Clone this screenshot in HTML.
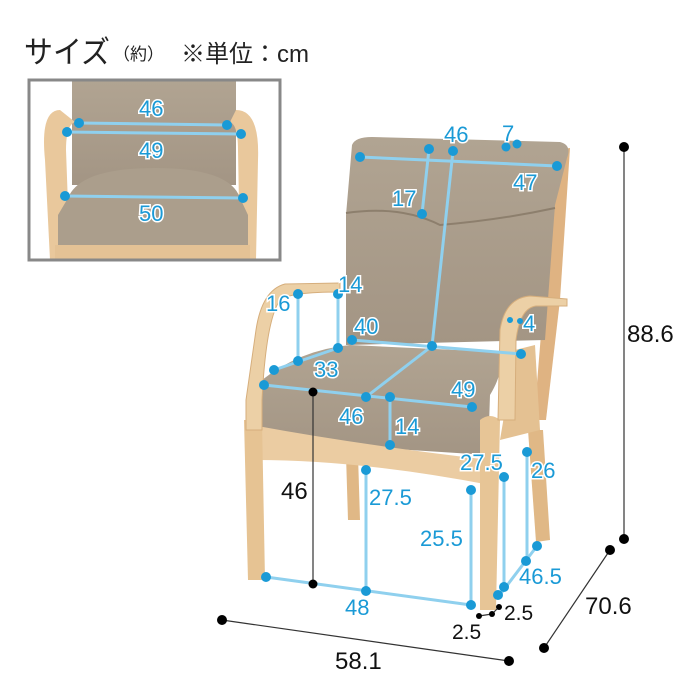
<!DOCTYPE html>
<html><head><meta charset="utf-8"><style>
html,body{margin:0;padding:0;background:#fff;width:700px;height:700px;overflow:hidden}
svg{display:block}
.b{font-family:"Liberation Sans",sans-serif;font-size:22px;fill:#1a9ad6;stroke:#fff;stroke-width:3px;paint-order:stroke}
.k{font-family:"Liberation Sans",sans-serif;font-size:24px;fill:#111}
.bl{stroke:#8fd0ee;stroke-width:3;fill:none}
</style></head><body>
<svg width="700" height="700" viewBox="0 0 700 700">
<defs>
<linearGradient id="fab" x1="0" y1="0" x2="0" y2="1"><stop offset="0" stop-color="#b1a492"/><stop offset="1" stop-color="#a39584"/></linearGradient>
</defs>
<text x="24" y="63" textLength="86" lengthAdjust="spacingAndGlyphs" style="font-family:'Liberation Sans','Noto Sans CJK JP',sans-serif;font-size:31px;fill:#222">サイズ</text>
<text x="113" y="60" style="font-family:'Liberation Sans','Noto Sans CJK JP',sans-serif;font-size:17px;fill:#222">（約）</text>
<text x="181" y="62" style="font-family:'Liberation Sans','Noto Sans CJK JP',sans-serif;font-size:24px;fill:#222">※単位：cm</text>

<g>
<rect x="29" y="80" width="251" height="180" fill="#fff"/>
<rect x="72" y="80" width="164" height="105" fill="url(#fab)"/>
<path d="M60 110 Q40 110 45 160 L50 260 L70 260 L66 150 Q66 125 75 122 Z" fill="#e9c89c"/>
<path d="M236 110 Q260 110 258 160 L256 260 L240 260 L238 150 Q238 125 230 122 Z" fill="#e9c89c"/>
<path d="M68 198 Q80 168 155 168 Q230 168 240 198 L248 215 L248 245 L58 245 L58 215 Z" fill="#ab9e8c"/>
<rect x="55" y="245" width="195" height="15" fill="#e4c295"/>
<rect x="29" y="80" width="251" height="180" fill="none" stroke="#888" stroke-width="3"/>
<line class="bl" x1="79" y1="123" x2="227" y2="125"/>
<line class="bl" x1="67" y1="132" x2="241" y2="134"/>
<line class="bl" x1="65" y1="196" x2="243" y2="198"/>
<g fill="#1a9ad6"><circle cx="79" cy="123" r="5"/><circle cx="227" cy="125" r="5"/><circle cx="67" cy="132" r="5"/><circle cx="241" cy="134" r="5"/><circle cx="65" cy="196" r="5"/><circle cx="243" cy="198" r="5"/></g>
<text class="b" x="139" y="116">46</text>
<text class="b" x="139" y="158">49</text>
<text class="b" x="139" y="221">50</text>
</g>

<g>
<path d="M556 150 L570 148 L560 300 L546 420 L534 420 Z" fill="#dfb382"/>
<path d="M346 455 L358 455 L360 520 L348 520 Z" fill="#e0b886"/>
<path d="M528 430 L543 430 L550 540 L536 542 Z" fill="#e0b886"/>
<path d="M352 145 Q355 137 372 137 L560 142 Q572 145 567 158 L555 205 L545 340 L346 345 L346 215 Z" fill="url(#fab)"/>
<path d="M346 213 Q400 205 440 225 Q500 220 555 208" stroke="#8d7f6d" stroke-width="2" fill="none"/>
<path d="M515 350 L535 345 L540 430 L500 440 Z" fill="#e4c192"/>
<path d="M262 380 Q300 350 350 345 L500 352 Q505 370 490 395 L488 455 L256 440 L254 395 Z" fill="url(#fab)"/>
<path d="M252 425 Q360 445 490 460 L490 485 Q360 460 256 460 Z" fill="#ebcca2"/>
<path d="M244 420 L262 420 L265 580 L248 580 Z" fill="#e6c393"/>
<path d="M480 420 Q490 412 500 420 L496 610 L480 610 Z" fill="#e7c596"/>
<path d="M340 283 L285 284 Q262 290 256 330 L246 400 L246 430 L262 430 L262 400 Q266 320 280 300 Q290 292 340 292 Z" fill="#ecd0a6" stroke="#d6ae7c" stroke-width="1"/>
<path d="M567 299 L530 296 Q505 298 500 330 L498 420 L515 420 L516 340 Q520 308 536 306 L567 306 Z" fill="#ecd0a6" stroke="#d6ae7c" stroke-width="1"/>
</g>

<g class="bl">
<line x1="360" y1="157" x2="557" y2="166"/>
<line x1="429" y1="149" x2="422" y2="214"/>
<line x1="453" y1="151" x2="432" y2="346"/>
<line x1="352" y1="340" x2="521" y2="354"/>
<line x1="432" y1="346" x2="366" y2="397"/>
<line x1="338" y1="294" x2="338" y2="348"/>
<line x1="298" y1="294" x2="298" y2="361"/>
<line x1="274" y1="370" x2="338" y2="348"/>
<line x1="264" y1="385" x2="472" y2="407"/>
<line x1="390" y1="397" x2="390" y2="445"/>
<line x1="527" y1="452" x2="527" y2="560"/>
<line x1="504" y1="477" x2="504" y2="587"/>
<line x1="499" y1="596" x2="537" y2="546"/>
<line x1="366" y1="470" x2="366" y2="591"/>
<line x1="471" y1="490" x2="471" y2="605"/>
<line x1="266" y1="577" x2="471" y2="605"/>
</g>
<g fill="#1a9ad6">
<circle cx="360" cy="157" r="5"/><circle cx="557" cy="166" r="5"/><circle cx="429" cy="149" r="5"/><circle cx="422" cy="214" r="5"/><circle cx="453" cy="151" r="5"/><circle cx="432" cy="346" r="5"/>
<circle cx="506" cy="147" r="4.5"/><circle cx="517" cy="144" r="4.5"/>
<circle cx="352" cy="340" r="5"/><circle cx="521" cy="354" r="5"/><circle cx="366" cy="397" r="5"/>
<circle cx="338" cy="294" r="5"/><circle cx="338" cy="348" r="5"/><circle cx="298" cy="294" r="5"/><circle cx="298" cy="361" r="5"/><circle cx="274" cy="370" r="5"/>
<circle cx="264" cy="385" r="5"/><circle cx="472" cy="407" r="5"/><circle cx="390" cy="397" r="5"/><circle cx="390" cy="445" r="5"/>
<circle cx="510" cy="320" r="3"/><circle cx="520" cy="321" r="3"/>
<circle cx="527" cy="452" r="5"/><circle cx="504" cy="477" r="5"/><circle cx="504" cy="587" r="5"/><circle cx="526" cy="561" r="5"/><circle cx="537" cy="546" r="5"/><circle cx="498" cy="595" r="5"/>
<circle cx="366" cy="470" r="5"/><circle cx="366" cy="591" r="5"/><circle cx="471" cy="490" r="5"/><circle cx="471" cy="605" r="5"/><circle cx="266" cy="577" r="5"/>
</g>
<g>
<text class="b" x="444" y="142">46</text>
<text class="b" x="502" y="141">7</text>
<text class="b" x="513" y="190">47</text>
<text class="b" x="392" y="206">17</text>
<text class="b" x="338" y="292">14</text>
<text class="b" x="266" y="311">16</text>
<text class="b" x="354" y="334">40</text>
<text class="b" x="523" y="331">4</text>
<text class="b" x="314" y="377">33</text>
<text class="b" x="451" y="397">49</text>
<text class="b" x="339" y="424">46</text>
<text class="b" x="395" y="434">14</text>
<text class="b" x="460" y="470">27.5</text>
<text class="b" x="531" y="478">26</text>
<text class="b" x="369" y="505">27.5</text>
<text class="b" x="420" y="546">25.5</text>
<text class="b" x="519" y="584">46.5</text>
<text class="b" x="345" y="615">48</text>
</g>

<g stroke="#333" stroke-width="1.2">
<line x1="313" y1="392" x2="313" y2="584"/>
<line x1="624" y1="147" x2="624" y2="539"/>
<line x1="222" y1="620" x2="509" y2="661"/>
<line x1="544" y1="648" x2="610" y2="550"/>
<line x1="479" y1="616" x2="492" y2="614"/><line x1="492" y1="614" x2="499" y2="607"/>
</g>
<g fill="#000">
<circle cx="313" cy="392" r="4.5"/><circle cx="313" cy="584" r="4.5"/>
<circle cx="624" cy="147" r="5"/><circle cx="624" cy="539" r="5"/><circle cx="610" cy="550" r="5"/><circle cx="544" cy="648" r="5"/>
<circle cx="222" cy="620" r="5"/><circle cx="509" cy="661" r="5"/>
<circle cx="479" cy="616" r="3"/><circle cx="492" cy="614" r="3"/><circle cx="499" cy="607" r="3"/>
</g>
<text class="k" x="281" y="499">46</text>
<text class="k" x="627" y="342">88.6</text>
<text class="k" x="585" y="614">70.6</text>
<text class="k" x="335" y="669">58.1</text>
<text class="k" x="504" y="620" style="font-size:21px">2.5</text>
<text class="k" x="452" y="639" style="font-size:21px">2.5</text>
</svg>
</body></html>
